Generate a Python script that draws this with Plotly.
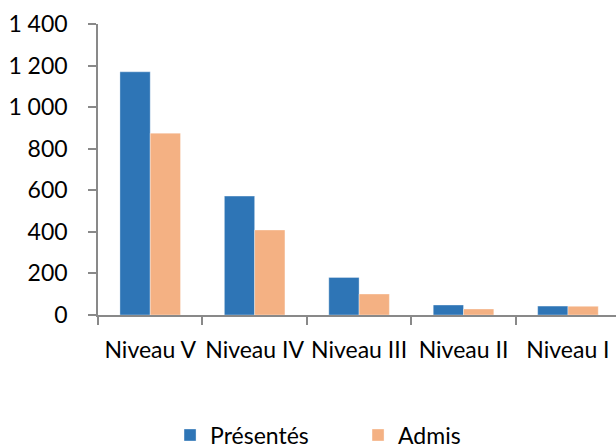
import plotly.graph_objects as go

categories = ["Niveau V", "Niveau IV", "Niveau III", "Niveau II", "Niveau I"]
presentes = [1170, 572, 181, 48, 43]
admis = [875, 409, 101, 29, 42]
y_ticks = [0, 200, 400, 600, 800, 1000, 1200, 1400]

font_family = "Lato, 'Open Sans', sans-serif"

fig = go.Figure()
fig.add_trace(go.Bar(
    x=categories, y=presentes, name="Présentés",
    marker=dict(color="#2E75B6", line=dict(color="rgba(255,255,255,0.35)", width=1)),
))
fig.add_trace(go.Bar(
    x=categories, y=admis, name="Admis",
    marker=dict(color="#F4B183", line=dict(color="rgba(255,255,255,0.35)", width=1)),
))

fig.update_layout(
    width=616, height=448,
    margin=dict(l=98, r=0, t=24, b=133, pad=0, autoexpand=False),
    paper_bgcolor="white", plot_bgcolor="white",
    separators=", ",
    barmode="group", bargap=0.42, bargroupgap=0,
    font=dict(family=font_family, size=23, color="#000000"),
    showlegend=True,
    legend=dict(orientation="h", x=0.502, xref="paper", xanchor="center",
                y=-0.4125, yanchor="middle", font=dict(size=23),
                entrywidth=143, itemwidth=30, traceorder="normal"),
)
fig.update_xaxes(
    type="category", range=[-0.5, 4.46], automargin=False,
    showline=True, linecolor="#898989", linewidth=1.5,
    ticks="outside", tickson="boundaries", ticklen=8, tickcolor="#898989", tickwidth=1.5,
    tickangle=0, showgrid=False, ticklabelstandoff=14,
)
fig.update_yaxes(
    range=[0, 1400], tickvals=y_ticks, tickformat=",d", automargin=False,
    showline=True, linecolor="#898989", linewidth=1.5,
    ticks="outside", ticklen=8, tickcolor="#898989", tickwidth=1.5,
    showgrid=False, zeroline=False, ticklabelstandoff=16,
)

fig.write_html("out.html", config={"displayModeBar": False},
               post_script="document.body.style.margin='0px';")
